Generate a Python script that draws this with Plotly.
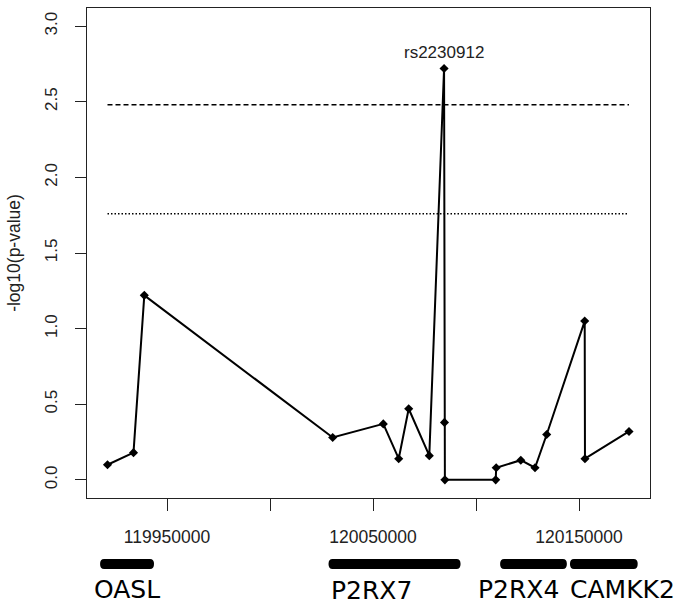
import plotly.graph_objects as go

# SNP positions and -log10(p) values
positions = [119921116, 119933738, 119938981, 120030437, 120055000, 120062477,
             120067330, 120077330, 120084500, 120084700, 120084900, 120109563,
             120109806, 120121748, 120128641, 120134321, 120152768, 120152900,
             120174272]
neglogp = [0.10, 0.18, 1.22, 0.28, 0.37, 0.14, 0.47, 0.16, 2.72, 0.38, 0.00,
           0.00, 0.08, 0.13, 0.08, 0.30, 1.05, 0.14, 0.32]

top_snp = "rs2230912"
top_index = 8

threshold_dashed = 2.48
threshold_dotted = 1.76

# x tick positions / labels
xtick_vals = [119950000, 120000000, 120050000, 120100000, 120150000]
xtick_text = ["119950000", "", "120050000", "", "120150000"]
ytick_vals = [0.0, 0.5, 1.0, 1.5, 2.0, 2.5, 3.0]
ytick_text = ["0.0", "0.5", "1.0", "1.5", "2.0", "2.5", "3.0"]

# genes
gene_names = ["OASL", "P2RX7", "P2RX4", "CAMKK2"]
gene_start = [119917500, 120028400, 120111700, 120145600]
gene_end = [119943700, 120092500, 120144100, 120178500]

x_range = [119911165, 120184466]
y_range = [-0.12, 3.12]

FONT = "Liberation Sans, Arial, sans-serif"
GENE_FONT = "DejaVu Sans, Verdana, sans-serif"
TXT = "#222"

W, H = 682, 604
M = dict(l=87, r=32, t=8, b=106)
plot_w = W - M["l"] - M["r"]
plot_h = H - M["t"] - M["b"]

fig = go.Figure()

# threshold lines spanning the data range
fig.add_trace(go.Scatter(
    x=[positions[0], positions[-1]], y=[threshold_dashed, threshold_dashed],
    mode="lines", line=dict(color="black", width=1.5, dash="5px,3px"),
    hoverinfo="skip", showlegend=False))
fig.add_trace(go.Scatter(
    x=[positions[0], positions[-1]], y=[threshold_dotted, threshold_dotted],
    mode="lines", line=dict(color="black", width=1.5, dash="1.5px,2px"),
    hoverinfo="skip", showlegend=False))

fig.add_trace(go.Scatter(
    x=positions, y=neglogp, mode="lines+markers",
    line=dict(color="black", width=2),
    marker=dict(symbol="diamond", size=7, color="black"),
    showlegend=False))

fig.add_annotation(
    x=positions[top_index], y=neglogp[top_index], text=top_snp,
    showarrow=False, yanchor="middle", yshift=16,
    font=dict(family=FONT, size=17, color=TXT))

# gene bars (rounded ends) and labels
BAR_Y = -0.1347
r_x = 4 * (x_range[1] - x_range[0]) / plot_w     # 4 px in data units
h_y = 5 / plot_h                                  # 5 px in paper units
y0, y1 = BAR_Y - h_y, BAR_Y + h_y
label_shift = {"OASL": -8, "P2RX7": 0, "P2RX4": -24, "CAMKK2": -2}
label_y = {"OASL": -0.186, "P2RX7": -0.188, "P2RX4": -0.186, "CAMKK2": -0.186}
for name, s, e in zip(gene_names, gene_start, gene_end):
    path = (f"M {s + r_x},{y1} L {e - r_x},{y1} "
            f"Q {e},{y1} {e},{BAR_Y} Q {e},{y0} {e - r_x},{y0} "
            f"L {s + r_x},{y0} Q {s},{y0} {s},{BAR_Y} Q {s},{y1} {s + r_x},{y1} Z")
    fig.add_shape(type="path", xref="x", yref="paper", path=path,
                  fillcolor="black", line=dict(width=0))
    fig.add_annotation(x=s, xref="x", y=label_y[name], yref="paper",
                       text=name, showarrow=False, xanchor="left",
                       yanchor="middle", xshift=label_shift[name],
                       font=dict(family=GENE_FONT, size=25, color="black"))

fig.update_layout(
    width=W, height=H,
    margin=M,
    plot_bgcolor="white", paper_bgcolor="white",
    font=dict(family=FONT, size=17, color=TXT),
    xaxis=dict(range=x_range, tickmode="array", tickvals=xtick_vals,
               ticktext=xtick_text, ticks="outside", ticklen=12,
               tickcolor=TXT, tickwidth=1.3, showgrid=False,
               zeroline=False, showline=True, linecolor=TXT,
               linewidth=1.3, mirror=True, ticklabelstandoff=11,
               tickfont=dict(family=FONT, size=17.5, color=TXT)),
    yaxis=dict(range=y_range, tickmode="array", tickvals=ytick_vals,
               ticktext=ytick_text, ticks="outside", ticklen=11,
               tickcolor=TXT, tickwidth=1.3, showgrid=False,
               zeroline=False, showline=True, linecolor=TXT,
               linewidth=1.3, mirror=True, tickangle=-90,
               ticklabelstandoff=11,
               tickfont=dict(family=FONT, size=17, color=TXT),
               title=dict(text="-log10(p-value)", standoff=16,
                          font=dict(family=FONT, size=17.5, color=TXT))),
)

fig.write_html("out.html")
